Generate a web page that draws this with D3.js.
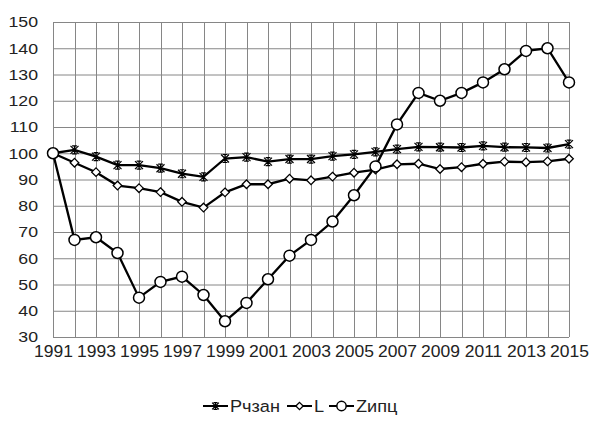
<!DOCTYPE html>
<html>
<head>
<meta charset="utf-8">
<script src="https://cdn.jsdelivr.net/npm/d3@7"></script>
<style>
  body { margin: 0; background: #fff; }
  svg { display: block; font-family: "Liberation Sans", Arial, sans-serif; }
  .tick text { fill: #222; transform-box: fill-box; }
  .yaxis .tick text { font-size: 15px; transform-origin: right center; transform: scaleX(1.18); }
  .xaxis .tick text { font-size: 16.5px; transform-origin: center center; transform: scaleX(1.06); }
  .legend text { font-size: 16.5px; fill: #222; transform-box: fill-box; transform-origin: left center; transform: scaleX(1.1); }
  .grid line { stroke: #868686; stroke-width: 1; }
  .line { fill: none; stroke: #000; stroke-width: 2.3; }
</style>
</head>
<body>
<script>
// Data
var years = d3.range(1991, 2016);
var yTicks = [30, 40, 50, 60, 70, 80, 90, 100, 110, 120, 130, 140, 150];
var xTickYears = [1991, 1993, 1995, 1997, 1999, 2001, 2003, 2005, 2007, 2009, 2011, 2013, 2015];

var rchzan = [100, 101.3, 98.7, 95.5, 95.5, 94.3, 92.2, 91, 98, 98.5, 96.8, 97.8, 97.8, 98.9, 99.6, 100.5,
  101.6, 102.4, 102.3, 102.2, 102.8, 102.3, 102.2, 102, 103.5];
var lSeries = [100, 96.4, 92.8, 87.7, 86.7, 85.2, 81.5, 79.3, 85.1, 88.2, 88.2, 90.3, 89.7, 91.1, 92.6, 93.8,
  95.8, 96, 94, 94.7, 96, 96.8, 96.6, 96.9, 97.9];
var zipc = [100, 67, 68, 62, 45, 51, 53, 46, 36, 43, 52, 61, 67, 74, 84, 95,
  111, 123, 120, 123, 127, 132, 139, 140, 127];

// Chart Params
var svgWidth = 590;
var svgHeight = 422;
var margin = { top: 22, right: 21, bottom: 85, left: 53 };
var width = svgWidth - margin.left - margin.right;
var height = svgHeight - margin.top - margin.bottom;

var svg = d3.select("body")
  .append("svg")
  .attr("width", svgWidth)
  .attr("height", svgHeight);

var chartGroup = svg.append("g")
  .attr("transform", `translate(${margin.left}, ${margin.top})`);

var x = d3.scaleLinear().domain([1991, 2015]).range([0, width]);
var y = d3.scaleLinear().domain([30, 150]).range([height, 0]);

// grid
chartGroup.append("g")
  .attr("class", "grid")
  .selectAll("line.h")
  .data(yTicks)
  .enter()
  .append("line")
    .attr("x1", 0).attr("x2", width)
    .attr("y1", d => y(d) + 0.5).attr("y2", d => y(d) + 0.5);

chartGroup.append("g")
  .attr("class", "grid")
  .selectAll("line.v")
  .data(years)
  .enter()
  .append("line")
    .attr("x1", d => Math.round(x(d)) + 0.5).attr("x2", d => Math.round(x(d)) + 0.5)
    .attr("y1", 0).attr("y2", height);

// axes
var leftAxis = d3.axisLeft(y).tickValues(yTicks).tickSize(0).tickPadding(15);
var bottomAxis = d3.axisBottom(x).tickValues(xTickYears).tickSize(0).tickPadding(8)
  .tickFormat(d3.format("d"));

chartGroup.append("g")
  .attr("class", "yaxis")
  .call(leftAxis)
  .call(g => g.select(".domain").remove());

chartGroup.append("g")
  .attr("class", "xaxis")
  .attr("transform", `translate(0, ${height})`)
  .call(bottomAxis)
  .call(g => g.select(".domain").remove());

// markers
function starPath(s) {
  return `M${-s},${-s}L${s},${s}M${-s},${s}L${s},${-s}M0,${-s}L0,${s}M${-s * 0.6},${-s}L${s * 0.6},${-s}M${-s * 0.6},${s}L${s * 0.6},${s}`;
}
function diamondPath(s) {
  return `M0,${-s}L${s},0L0,${s}L${-s},0Z`;
}

var series = [
  { name: "Рчзан", values: rchzan, marker: "star" },
  { name: "L", values: lSeries, marker: "diamond" },
  { name: "Zипц", values: zipc, marker: "circle" }
];

var line = d3.line()
  .x((d, i) => x(years[i]))
  .y(d => y(d));

function drawMarker(sel, type, k) {
  k = k || 1;
  if (type === "circle") {
    sel.append("circle").attr("r", 5.5 * k).attr("fill", "#fff").attr("stroke", "#000").attr("stroke-width", 1.5);
  } else if (type === "diamond") {
    sel.append("path").attr("d", diamondPath(4.3 * k)).attr("fill", "#fff").attr("stroke", "#000").attr("stroke-width", 1.3);
  } else {
    sel.append("path").attr("d", starPath(4 * k)).attr("fill", "none").attr("stroke", "#000").attr("stroke-width", 1.2);
  }
}

series.forEach(function(s) {
  chartGroup.append("path")
    .datum(s.values)
    .attr("class", "line")
    .attr("d", line);
});

series.forEach(function(s) {
  chartGroup.selectAll(null)
    .data(s.values)
    .enter()
    .append("g")
      .attr("transform", (d, i) => `translate(${x(years[i])}, ${y(d)})`)
      .each(function() { drawMarker(d3.select(this), s.marker); });
});

// legend
var legendPos = [203, 287, 329];
var legend = svg.append("g").attr("class", "legend").attr("transform", "translate(0, 406)");
series.forEach(function(s, i) {
  var g = legend.append("g").attr("transform", `translate(${legendPos[i]}, 0)`);
  g.append("line").attr("x1", 0).attr("x2", 25).attr("y1", 0).attr("y2", 0)
    .attr("stroke", "#000").attr("stroke-width", 2);
  drawMarker(g.append("g").attr("transform", "translate(12.5, 0)"), s.marker, 0.85);
  g.append("text")
    .attr("x", 27)
    .attr("y", 6)
    .text(s.name);
});
</script>
</body>
</html>
